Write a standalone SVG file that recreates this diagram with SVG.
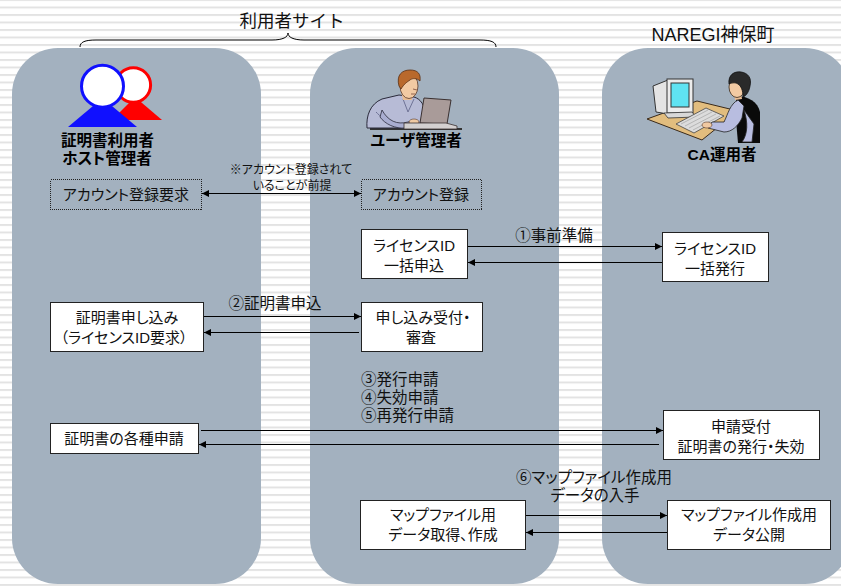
<svg xmlns="http://www.w3.org/2000/svg" width="841" height="586" viewBox="0 0 841 586">
  <defs>
    <pattern id="stripes" x="0" y="-1" width="10" height="7.5" patternUnits="userSpaceOnUse">
      <rect x="0" y="0" width="10" height="2" fill="#e3e3e3"/>
    </pattern>
    <marker id="ah" viewBox="0 0 10 10" refX="10" refY="5" markerWidth="8" markerHeight="7" markerUnits="userSpaceOnUse" orient="auto-start-reverse">
      <path d="M0,0 L10,5 L0,10 Z" fill="#000"/>
    </marker>
  </defs>
  <style>
    .panel { fill: #a3b1bf; }
    .box { fill: #fff; stroke: #222; stroke-width: 1; }
    .dbox { fill: none; stroke: #222; stroke-width: 1; stroke-dasharray: 1 1; shape-rendering: crispEdges; }
    .t { font-family: "Liberation Sans", "Noto Sans CJK JP", sans-serif; font-size: 15px; fill: #111; text-anchor: middle; font-feature-settings: "palt"; }
    .lbl { font-family: "Liberation Sans", "Noto Sans CJK JP", sans-serif; font-size: 15.5px; fill: #111; font-feature-settings: "palt"; }
    .note { font-size: 12px; text-anchor: middle; }
    .actor { font-family: "Liberation Sans", "Noto Sans CJK JP", sans-serif; font-size: 15.5px; font-weight: bold; fill: #000; text-anchor: middle; font-feature-settings: "palt"; }
    .head { font-family: "Liberation Sans", "Noto Sans CJK JP", sans-serif; font-size: 17.5px; fill: #111; text-anchor: middle; }
    .conn line { stroke: #000; stroke-width: 1; marker-end: url(#ah); }
  </style>

  <!-- striped background -->
  <rect width="841" height="586" fill="#fff"/>
  <rect width="841" height="586" fill="url(#stripes)"/>

  <!-- site areas -->
  <g id="areas">
    <rect class="panel" x="12" y="48" width="249" height="536" rx="46"/>
    <rect class="panel" x="310" y="48" width="249" height="536" rx="46"/>
    <rect class="panel" x="602" y="48" width="249" height="536" rx="46"/>
  </g>

  <!-- site headings -->
  <g id="site-user">
    <path d="M80,47 C80,42 85,40 96,40 L272,40 C283,40 288,37 288,33 C288,37 293,40 304,40 L480,40 C491,40 496,42 496,47" fill="none" stroke="#000" stroke-width="1"/>
    <text class="head" x="292" y="27">利用者サイト</text>
  </g>
  <g id="site-naregi">
    <text class="head" x="713" y="41" style="font-size:18px">NAREGI神保町</text>
  </g>

  <!-- actor: certificate users / host administrators -->
  <g id="actor-users">
    <polygon points="135,97 162,120 112,120" fill="#ff0000"/>
    <circle cx="133.3" cy="85" r="17.3" fill="#fff" stroke="#ff0000" stroke-width="3"/>
    <polygon points="102.5,98 137,127 68,127" fill="#1010ff"/>
    <circle cx="102.5" cy="86.2" r="21" fill="#fff" stroke="#1010ff" stroke-width="3"/>
    <text class="actor" x="107.5" y="146">証明書利用者</text>
    <text class="actor" x="107" y="164">ホスト管理者</text>
  </g>

  <!-- actor: user administrator at a laptop -->
  <g id="actor-admin">
    <!-- desk edge -->
    <line x1="370" y1="129" x2="462" y2="129" stroke="#333" stroke-width="2"/>
    <!-- torso -->
    <path d="M367,128 C366,116 370,104 382,99 L399,95 L414,97 C421,99 425,106 425,114 L425,128 Z" fill="#b7bbd6" stroke="#2a2a3a" stroke-width="1"/>
    <path d="M376,112 C380,116 386,122 396,124 M403,99 L408,112 L414,99" fill="none" stroke="#6f7396" stroke-width="1"/>
    <!-- arm and hand -->
    <path d="M382,110 C388,121 397,125 408,122 L416,120 L418,125 L406,128 C395,129 385,124 380,117 Z" fill="#a9add0" stroke="#2a2a3a" stroke-width="0.8"/>
    <ellipse cx="414" cy="122" rx="5" ry="3" fill="#f0c9a2" stroke="#5a3a2a" stroke-width="0.6"/>
    <!-- neck and head -->
    <path d="M401,91 L403,100 L412,100 L412,92 Z" fill="#e9bd95"/>
    <ellipse cx="409" cy="86" rx="9" ry="12.5" fill="#f2caa3" stroke="#5a3a2a" stroke-width="0.8"/>
    <path d="M399,86 C396,75 402,70 410,70 C418,70 421,74 420,81 C417,78 412,78 410,80 C407,82 404,84 401,89 Z" fill="#b9692c" stroke="#5a2e12" stroke-width="0.8"/>
    <path d="M413,89 L417,90 M411,94 L415,94" stroke="#7a4a3a" stroke-width="0.8"/>
    <!-- laptop -->
    <polygon points="424,98 451,100 447,124 420,123" fill="#a99b99" stroke="#3a3030" stroke-width="1"/>
    <polygon points="404,123 446,123 457,126 457,129 404,129" fill="#d4d0d0" stroke="#3a3030" stroke-width="0.8"/>
    <text class="actor" x="416" y="146">ユーザ管理者</text>
  </g>

  <!-- actor: CA operator at a workstation -->
  <g id="actor-ca">
    <!-- desk -->
    <polygon points="647,119 697,101 738,111 702,140" fill="#e2bd7e" stroke="#3a2a1a" stroke-width="1"/>
    <!-- monitor -->
    <polygon points="653,86 668,80 668,114 656,112" fill="#e4e4e4" stroke="#333" stroke-width="1"/>
    <rect x="667" y="79" width="26" height="34" fill="#ececec" stroke="#333" stroke-width="1"/>
    <rect x="671" y="83" width="18" height="24" fill="#5fe3f2" stroke="#333" stroke-width="1"/>
    <polygon points="664,113 692,112 696,117 668,118" fill="#d8d8d8" stroke="#333" stroke-width="0.8"/>
    <!-- keyboard -->
    <polygon points="676,124 706,108 724,116 694,133" fill="#dcdcdc" stroke="#444" stroke-width="0.8"/>
    <path d="M681,124 L708,110 M685,126 L712,112 M689,128 L716,114 M693,130 L720,116" stroke="#9a9a9a" stroke-width="0.6"/>
    <!-- body -->
    <path d="M736,96 C748,96 758,102 760,112 L760,143 L738,143 L736,120 Z" fill="#0a0a0a"/>
    <path d="M738,100 C730,104 728,114 724,122 L712,122 L708,128 L724,132 C732,132 738,126 742,118 L744,106 Z" fill="#b8bde0" stroke="#222" stroke-width="0.8"/>
    <path d="M744,110 C748,122 748,134 742,142 L752,142 L754,124 Z" fill="#b8bde0" stroke="#222" stroke-width="0.8"/>
    <ellipse cx="707" cy="125" rx="5" ry="3" fill="#f0c9a2" stroke="#5a3a2a" stroke-width="0.6"/>
    <!-- head -->
    <path d="M734,92 L735,100 L742,99 L741,92 Z" fill="#e9bd95"/>
    <ellipse cx="737" cy="87" rx="8" ry="10.5" fill="#f2caa3" stroke="#3a2a1a" stroke-width="0.8"/>
    <path d="M729,84 C728,75 734,71 741,72 C748,73 752,78 750,86 C749,92 746,96 743,97 C743,90 741,86 738,84 C735,82 731,83 729,84 Z" fill="#2a2a2a" stroke="#111" stroke-width="0.8"/>
    <text class="actor" x="722" y="160">CA運用者</text>
  </g>

  <!-- process nodes -->
  <g id="n-account-req">
    <rect class="dbox" x="50.5" y="179.5" width="151" height="30"/>
    <text class="t" x="126" y="200">アカウント登録要求</text>
  </g>
  <g id="n-account-reg">
    <rect class="dbox" x="361.5" y="179.5" width="120" height="30"/>
    <text class="t" x="421" y="200">アカウント登録</text>
  </g>
  <g id="n-license-apply">
    <rect class="box" x="361.5" y="229.5" width="106" height="49"/>
    <text class="t" x="414" y="251">ライセンスID</text>
    <text class="t" x="414" y="271">一括申込</text>
  </g>
  <g id="n-license-issue">
    <rect class="box" x="662.5" y="232.5" width="106" height="49"/>
    <text class="t" x="715" y="254">ライセンスID</text>
    <text class="t" x="715" y="274">一括発行</text>
  </g>
  <g id="n-cert-apply">
    <rect class="box" x="50.5" y="302.5" width="153" height="49"/>
    <text class="t" x="127" y="323">証明書申し込み</text>
    <text class="t" x="124" y="343">（ライセンスID要求）</text>
  </g>
  <g id="n-cert-review">
    <rect class="box" x="361.5" y="302.5" width="121" height="49"/>
    <text class="t" x="423" y="323">申し込み受付・</text>
    <text class="t" x="421" y="343">審査</text>
  </g>
  <g id="n-cert-requests">
    <rect class="box" x="50.5" y="423.5" width="148" height="30"/>
    <text class="t" x="124" y="444">証明書の各種申請</text>
  </g>
  <g id="n-cert-accept">
    <rect class="box" x="663.5" y="410.5" width="156" height="49"/>
    <text class="t" x="741" y="432">申請受付</text>
    <text class="t" x="741" y="452">証明書の発行・失効</text>
  </g>
  <g id="n-map-create">
    <rect class="box" x="360.5" y="500.5" width="165" height="49"/>
    <text class="t" x="443" y="520">マップファイル用</text>
    <text class="t" x="443" y="540">データ取得、作成</text>
  </g>
  <g id="n-map-publish">
    <rect class="box" x="667.5" y="500.5" width="163" height="49"/>
    <text class="t" x="749" y="520">マップファイル作成用</text>
    <text class="t" x="749" y="540">データ公開</text>
  </g>

  <!-- connectors -->
  <g id="connectors" class="conn">
    <line x1="202" y1="193.5" x2="361" y2="193.5" style="marker-start:url(#ah)"/>
    <line x1="468" y1="246.5" x2="662" y2="246.5"/>
    <line x1="662" y1="262.5" x2="468" y2="262.5"/>
    <line x1="204" y1="316.5" x2="361" y2="316.5"/>
    <line x1="359" y1="332.5" x2="204" y2="332.5"/>
    <line x1="201" y1="430.5" x2="663" y2="430.5"/>
    <line x1="659" y1="444.5" x2="199" y2="444.5"/>
    <line x1="526" y1="515.5" x2="667" y2="515.5"/>
    <line x1="667" y1="532.5" x2="526" y2="532.5"/>
  </g>

  <!-- connector labels -->
  <g id="labels">
    <text class="lbl note" x="291" y="174">※アカウント登録されて</text>
    <text class="lbl note" x="292" y="190">いることが前提</text>
    <text class="lbl" x="554" y="241" text-anchor="middle">①事前準備</text>
    <text class="lbl" x="275" y="309" text-anchor="middle">②証明書申込</text>
    <text class="lbl" x="361" y="385">③発行申請</text>
    <text class="lbl" x="361" y="403">④失効申請</text>
    <text class="lbl" x="361" y="421">⑤再発行申請</text>
    <text class="lbl" x="594" y="483" text-anchor="middle">⑥マップファイル作成用</text>
    <text class="lbl" x="595" y="501" text-anchor="middle">データの入手</text>
  </g>
</svg>
